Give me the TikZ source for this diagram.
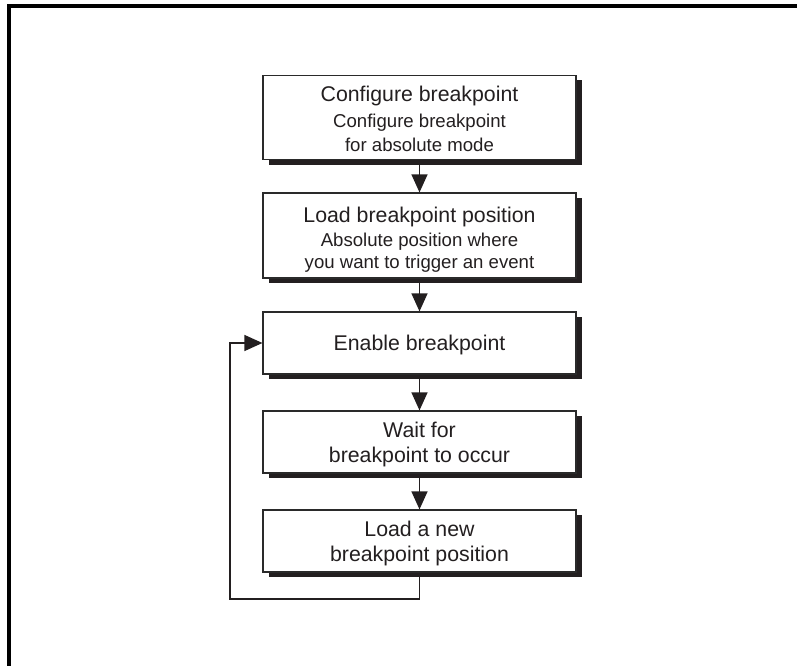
\documentclass[tikz,border=0pt]{standalone}
\usepackage{fontspec}
\setmainfont{Liberation Sans}
\usetikzlibrary{arrows.meta,shadows}
\definecolor{ink}{HTML}{231F20}
\definecolor{edge}{HTML}{2A2A2A}
\tikzset{
  box/.style={draw=edge, line width=1.2pt, fill=white, minimum width=313pt, inner sep=0pt,
    drop shadow={shadow xshift=5.5pt, shadow yshift=-5pt, fill=ink, opacity=1}},
  ttl/.style={anchor=base, inner sep=0pt, text=ink, font=\fontsize{21.3}{25}\selectfont},
  sub/.style={anchor=base, inner sep=0pt, text=ink, font=\fontsize{18.6}{22}\selectfont},
  arr/.style={draw=ink, line width=1.3pt, -{Triangle[width=16pt,length=18pt]}},
  frame/.style={draw=black, line width=3.4pt}
}
\begin{document}
\begin{tikzpicture}[x=1pt,y=-1pt]
\useasboundingbox (0,0) rectangle (797,666);
\draw[frame] (797,6) -- (9,6) -- (9,666);

\node[box, minimum height=84pt] (b1) at (419.5,117.5) {};
\node[box, minimum height=85pt] (b2) at (419.5,235.5) {};
\node[box, minimum height=62pt] (b3) at (419.5,343) {};
\node[box, minimum height=62pt] (b4) at (419.5,442) {};
\node[box, minimum height=62pt] (b5) at (419.5,541) {};

\node[ttl] (t1a) at (419.5,102) {Configure breakpoint};
\node[sub] (t1b) at (419.5,128) {Configure breakpoint};
\node[sub] (t1c) at (419.5,151) {for absolute mode};

\node[ttl] (t2a) at (419.5,222.5) {Load breakpoint position};
\node[sub] (t2b) at (419.5,246.5) {Absolute position where};
\node[sub] (t2c) at (419.5,268.5) {you want to trigger an event};

\node[ttl] (t3a) at (419.5,350.5) {Enable breakpoint};

\node[ttl] (t4a) at (419.5,437) {Wait for};
\node[ttl] (t4b) at (419.5,462.5) {breakpoint to occur};

\node[ttl] (t5a) at (419.5,536.5) {Load a new};
\node[ttl] (t5b) at (419.5,561.5) {breakpoint position};

\coordinate (lp) at (230,599);

\draw[arr] (b1.south) -- (b2.north);
\draw[arr] (b2.south) -- (b3.north);
\draw[arr] (b3.south) -- (b4.north);
\draw[arr] (b4.south) -- (b5.north);
\draw[arr] (b5.south) |- (lp) |- (b3.west);
\end{tikzpicture}
\end{document}
